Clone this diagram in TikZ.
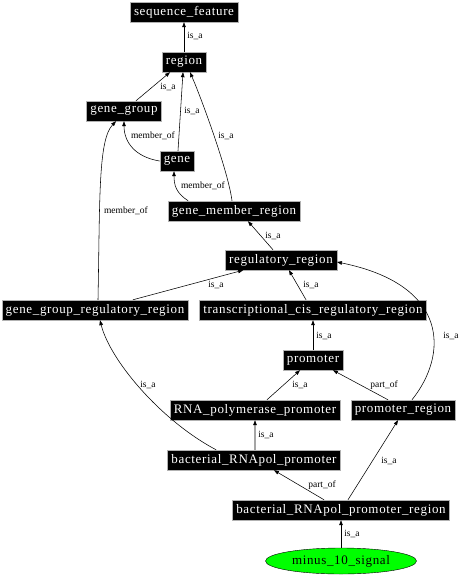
\documentclass[tikz,border=0pt]{standalone}
\usepackage{fontspec}
\setmainfont{Liberation Serif}
\newfontfamily\boxfont[LetterSpace=5]{Liberation Serif}
\usetikzlibrary{arrows.meta,shapes.geometric}
\begin{document}
\begin{tikzpicture}[x=1bp,y=-1bp,
    term/.style={rectangle,fill=black,draw=gray!60,text=white,inner xsep=4bp,
      minimum height=20bp,font=\boxfont\fontsize{13bp}{15bp}\selectfont},
    leaf/.style={ellipse,fill=green,draw=black,minimum width=151bp,minimum height=26bp,
      inner sep=0pt,font=\boxfont\fontsize{13bp}{15bp}\selectfont},
    lbl/.style={inner sep=0pt,font=\fontsize{9.5bp}{11bp}\selectfont},
    rel/.style={-{Triangle[length=5bp,width=3.6bp]},line width=0.55bp}]

          \useasboundingbox (0,0) rectangle (462,576);

          % terms
          \node[term] (sf) at (184,12) {sequence\_feature};
          \node[term] (region) at (184,62) {region};
          \node[term] (gg) at (124,111) {gene\_group};
          \node[term] (gene) at (177,161) {gene};
          \node[term] (gmr) at (234,211) {gene\_member\_region};
          \node[term] (rr) at (281,260) {regulatory\_region};
          \node[term] (ggrr) at (95,310) {gene\_group\_regulatory\_region};
          \node[term] (tcrr) at (313,310) {transcriptional\_cis\_regulatory\_region};
          \node[term] (prom) at (313,360) {promoter};
          \node[term] (rnap) at (255,410) {RNA\_polymerase\_promoter};
          \node[term] (pr) at (403,410) {promoter\_region};
          \node[term] (brp) at (254,460) {bacterial\_RNApol\_promoter};
          \node[term] (brpr) at (341,510) {bacterial\_RNApol\_promoter\_region};
          \node[leaf] (m10) at (341,561) {minus\_10\_signal};

          % relations
          \draw[rel] (region.north) -- (sf.south);
          \draw[rel] ([xshift=12]gg.north) -- ([xshift=-14]region.south);
          \draw[rel] ([xshift=1]gene.north) -- ([xshift=-1]region.south);
          \draw[rel] ([xshift=-2]gmr.north) .. controls (228,170) and (200,95) .. ([xshift=6]region.south);
          \draw[rel] (gene.west) .. controls (135,157) and (124,142) .. (gg.south);
          \draw[rel] ([xshift=-46]gmr.north) .. controls (176,193) and (174,185) .. ([xshift=-3]gene.south);
          \draw[rel] ([xshift=3]ggrr.north) .. controls (100,200) and (98,140) .. ([xshift=-8]gg.south);
          \draw[rel] ([xshift=-8]rr.north) -- ([xshift=14]gmr.south);
          \draw[rel] ([xshift=38]ggrr.north) -- ([xshift=-38]rr.south);
          \draw[rel] ([xshift=-7]tcrr.north) -- ([xshift=8]rr.south);
          \draw[rel] ([xshift=9]pr.north) .. controls (448,355) and (450,285) .. ([yshift=-2]rr.east);
          \draw[rel] (prom.north) -- (tcrr.south);
          \draw[rel] ([xshift=12]rnap.north) -- ([xshift=-13]prom.south);
          \draw[rel] ([xshift=-15]pr.north) -- ([xshift=20]prom.south);
          \draw[rel] ([xshift=-38]brp.north) .. controls (160,420) and (110,360) .. ([xshift=5]ggrr.south);
          \draw[rel] ([xshift=1]brp.north) -- (rnap.south);
          \draw[rel] ([xshift=-17]brpr.north) -- ([xshift=20]brp.south);
          \draw[rel] ([xshift=7]brpr.north) -- ([xshift=-5]pr.south);
          \draw[rel] (m10.north) -- (brpr.south);

          % labels
          \node[lbl] (l1) at (195,36) {is\_a};
          \node[lbl] (l2) at (168,87) {is\_a};
          \node[lbl] (l3) at (192,111) {is\_a};
          \node[lbl] (l4) at (226,136) {is\_a};
          \node[lbl] (l5) at (153,136) {member\_of};
          \node[lbl] (l6) at (203,186) {member\_of};
          \node[lbl] (l7) at (126,211) {member\_of};
          \node[lbl] (l8) at (273,236) {is\_a};
          \node[lbl] (l9) at (216,285) {is\_a};
          \node[lbl] (l10) at (311,285) {is\_a};
          \node[lbl] (l11) at (451,336) {is\_a};
          \node[lbl] (l12) at (324,336) {is\_a};
          \node[lbl] (l13) at (300,385) {is\_a};
          \node[lbl] (l14) at (384,385) {part\_of};
          \node[lbl] (l15) at (148,385) {is\_a};
          \node[lbl] (l16) at (266,435) {is\_a};
          \node[lbl] (l17) at (322,485) {part\_of};
          \node[lbl] (l18) at (389,461) {is\_a};
          \node[lbl] (l19) at (352,534) {is\_a};

        \end{tikzpicture}
\end{document}
